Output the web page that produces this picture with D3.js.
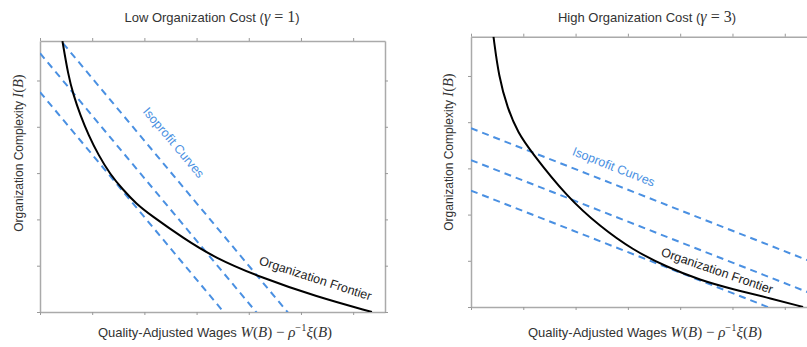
<!DOCTYPE html>
<html>
<head>
<meta charset="utf-8">
<script src="https://cdn.jsdelivr.net/npm/d3@7"></script>
<style>
  body { margin: 0; background: #fff; }
  svg { display: block; }
</style>
</head>
<body>
<svg id="chart" width="807" height="347"></svg>
<script>
// Unlabelled tick positions shared by both panels
const xTicks = [0, 1, 2, 3, 4, 5, 6];
const yTicks = [0, 1, 2, 3, 4, 5];

// Organization frontier, low organization cost (gamma = 1)
const lowFrontierW = [0.43, 0.54, 0.64, 0.77, 0.93, 1.12, 1.34, 1.59, 1.85, 2.11, 2.75, 3.35, 4.22, 5.30, 6.36];
const lowFrontierI = [5.85, 5.12, 4.69, 4.26, 3.82, 3.39, 2.98, 2.64, 2.33, 2.10, 1.59, 1.17, 0.75, 0.33, 0.00];
// Isoprofit lines I = intercept - slope * W
const lowIsoIntercepts = [4.75, 5.59, 6.40];
const lowIsoSlope = 1.35;

// Organization frontier, high organization cost (gamma = 3)
const highFrontierW = [0.43, 0.53, 0.70, 0.90, 1.15, 1.83, 2.47, 3.10, 3.74, 4.38, 5.02, 5.65, 6.35];
const highFrontierI = [5.85, 4.99, 4.29, 3.77, 3.36, 2.39, 1.74, 1.23, 0.87, 0.58, 0.38, 0.21, 0.00];
const highIsoIntercepts = [2.52, 3.18, 3.87];
const highIsoSlope = 0.444;

const panelTitles = ["Low Organization Cost", "High Organization Cost"];
const gammaValues = ["1", "3"];

const SANS = "'Liberation Sans', Arial, sans-serif";
const SERIF = "'Liberation Serif', 'Times New Roman', serif";
const TEXT = "#333";
const BLUE = "#4a90e2";

const svg = d3.select("#chart");

const panels = [
  {
    id: "low",
    xRange: [40, 385], xMax: 6.61,
    yRange: [312, 41], yMax: 5.853,
    frontierW: lowFrontierW, frontierI: lowFrontierI,
    isoIntercepts: lowIsoIntercepts, isoSlope: lowIsoSlope,
    title: panelTitles[0], gamma: gammaValues[0],
    titleX: 212, xLabelX: 215, yLabelX: 23, yLabelY: 153,
    isoLabel: { w: 2.50, i: 3.60, angle: 50 },
    frontLabel: { w: 5.25, i: 0.64, angle: 18 }
  },
  {
    id: "high",
    xRange: [471, 824], xMax: 6.75,
    yRange: [307, 36.7], yMax: 5.85,
    frontierW: highFrontierW, frontierI: highFrontierI,
    isoIntercepts: highIsoIntercepts, isoSlope: highIsoSlope,
    title: panelTitles[1], gamma: gammaValues[1],
    titleX: 647, xLabelX: 645, yLabelX: 453, yLabelY: 152,
    isoLabel: { w: 2.70, i: 2.95, angle: 21.5 },
    frontLabel: { w: 4.68, i: 0.70, angle: 19 }
  }
];

// Appends a run of tspans mixing sans text with serif math symbols
function mathLabel(sel, parts) {
  parts.forEach(([t, o]) => {
    const ts = sel.append("tspan").text(t)
      .attr("font-family", o.serif ? SERIF : SANS);
    if (o.italic) ts.attr("font-style", "italic");
    if (o.size) ts.attr("font-size", o.size);
    if (o.dy) ts.attr("dy", o.dy);
  });
}

panels.forEach(p => {
  const x = d3.scaleLinear().domain([0, p.xMax]).range(p.xRange);
  const y = d3.scaleLinear().domain([0, p.yMax]).range(p.yRange);
  const g = svg.append("g").attr("class", "panel-" + p.id);

  const clipId = "clip-" + p.id;
  svg.append("clipPath").attr("id", clipId)
    .append("rect")
    .attr("x", p.xRange[0]).attr("y", p.yRange[1])
    .attr("width", p.xRange[1] - p.xRange[0])
    .attr("height", p.yRange[0] - p.yRange[1]);

  // frame with outward ticks on all four sides
  const styleAxis = a => {
    a.select(".domain").attr("stroke", "#aaa").attr("stroke-width", 1.5);
    a.selectAll(".tick line").attr("stroke", "#999").attr("stroke-width", 1);
  };
  g.append("g").attr("transform", `translate(0,${p.yRange[0]})`)
    .call(d3.axisBottom(x).tickValues(xTicks).tickSize(3).tickSizeOuter(0).tickFormat(""))
    .call(styleAxis);
  g.append("g").attr("transform", `translate(0,${p.yRange[1]})`)
    .call(d3.axisTop(x).tickValues(xTicks).tickSize(3).tickSizeOuter(0).tickFormat(""))
    .call(styleAxis);
  g.append("g").attr("transform", `translate(${p.xRange[0]},0)`)
    .call(d3.axisLeft(y).tickValues(yTicks).tickSize(3).tickSizeOuter(0).tickFormat(""))
    .call(styleAxis);
  g.append("g").attr("transform", `translate(${p.xRange[1]},0)`)
    .call(d3.axisRight(y).tickValues(yTicks).tickSize(3).tickSizeOuter(0).tickFormat(""))
    .call(styleAxis);

  // isoprofit lines
  const plot = g.append("g").attr("clip-path", `url(#${clipId})`);
  const isoLine = d3.line().x(d => x(d[0])).y(d => y(d[1]));
  p.isoIntercepts.forEach(a => {
    const pts = [[0, a], [p.xMax, a - p.isoSlope * p.xMax]];
    plot.append("path")
      .attr("d", isoLine(pts))
      .attr("fill", "none")
      .attr("stroke", BLUE)
      .attr("stroke-width", 2)
      .attr("stroke-dasharray", "7,5");
  });

  // organization frontier
  const frontier = d3.line()
    .x((d, i) => x(p.frontierW[i]))
    .y((d, i) => y(p.frontierI[i]))
    .curve(d3.curveBasis);
  plot.append("path")
    .attr("d", frontier(p.frontierW))
    .attr("fill", "none")
    .attr("stroke", "#000")
    .attr("stroke-width", 2);

  // curve labels
  g.append("text")
    .attr("transform", `translate(${x(p.isoLabel.w)},${y(p.isoLabel.i)}) rotate(${p.isoLabel.angle})`)
    .attr("text-anchor", "middle")
    .attr("font-family", SANS).attr("font-size", 12.5)
    .attr("fill", BLUE)
    .text("Isoprofit Curves");
  g.append("text")
    .attr("transform", `translate(${x(p.frontLabel.w)},${y(p.frontLabel.i)}) rotate(${p.frontLabel.angle})`)
    .attr("text-anchor", "middle")
    .attr("font-family", SANS).attr("font-size", 12.5)
    .attr("fill", "#222")
    .text("Organization Frontier");

  // title
  const t = g.append("text")
    .attr("x", p.titleX).attr("y", 21.5)
    .attr("text-anchor", "middle")
    .attr("font-size", 13).attr("fill", TEXT);
  mathLabel(t, [
    [p.title + " (", {}],
    ["γ", { serif: true, italic: true, size: 16 }],
    [" = " + p.gamma, { serif: true, size: 16 }],
    [")", {}]
  ]);

  // x-axis label
  const xl = g.append("text")
    .attr("x", p.xLabelX).attr("y", 337)
    .attr("text-anchor", "middle")
    .attr("font-size", 13).attr("fill", TEXT);
  mathLabel(xl, [
    ["Quality-Adjusted Wages ", {}],
    ["W", { serif: true, italic: true, size: 15 }],
    ["(", { serif: true, size: 15 }],
    ["B", { serif: true, italic: true, size: 15 }],
    [") − ", { serif: true, size: 15 }],
    ["ρ", { serif: true, italic: true, size: 15 }],
    ["−1", { serif: true, size: 10.5, dy: -6 }],
    ["ξ", { serif: true, italic: true, size: 15, dy: 6 }],
    ["(", { serif: true, size: 15 }],
    ["B", { serif: true, italic: true, size: 15 }],
    [")", { serif: true, size: 15 }]
  ]);

  // y-axis label
  const yl = g.append("text")
    .attr("transform", `translate(${p.yLabelX},${p.yLabelY}) rotate(-90)`)
    .attr("text-anchor", "middle")
    .attr("font-size", 12).attr("fill", TEXT);
  mathLabel(yl, [
    ["Organization Complexity ", {}],
    ["I", { serif: true, italic: true, size: 14.5 }],
    ["(", { serif: true, size: 14.5 }],
    ["B", { serif: true, italic: true, size: 14.5 }],
    [")", { serif: true, size: 14.5 }]
  ]);
});
</script>
</body>
</html>
